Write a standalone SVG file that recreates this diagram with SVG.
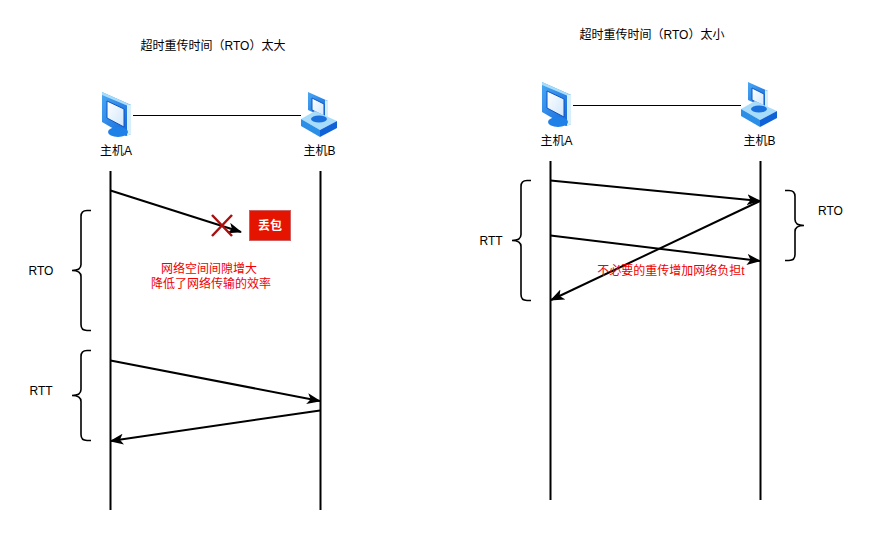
<svg xmlns="http://www.w3.org/2000/svg" width="871" height="533" viewBox="0 0 871 533">
<style>
text{font-family:"Liberation Sans","Noto Sans CJK SC",sans-serif;font-size:12px;fill:#000;text-anchor:middle}
.red{fill:#f00000}
.l{fill:none;stroke:#000;stroke-width:2}
.t{fill:none;stroke:#000;stroke-width:1}
.a{fill:none;stroke:#000;stroke-width:2;marker-end:url(#ah)}
.b{fill:none;stroke:#000;stroke-width:1.6}
</style>
<defs>
<linearGradient id="g" x1="0" y1="0" x2="1" y2="1"><stop offset="0" stop-color="#4aa8f4"/><stop offset="1" stop-color="#0f62d8"/></linearGradient>
<linearGradient id="s" x1="0" y1="0" x2="1" y2="1"><stop offset="0" stop-color="#ffffff"/><stop offset="1" stop-color="#cfe6fb"/></linearGradient>
<marker id="ah" viewBox="0 0 14 11" refX="13" refY="5.500" markerWidth="14" markerHeight="11" markerUnits="userSpaceOnUse" orient="auto"><path d="M0 0L14 5.500L0 11L3.500 5.500Z" fill="#000"/></marker>
<g id="pcA">
<path d="M1 0L30 13V42L25 44L1 30Z" fill="url(#g)"/>
<path d="M1 0L30 13L27 14L1 3Z" fill="#a8dcfb"/>
<path d="M26 13L30 13V42L26 44Z" fill="#d5effd"/>
<path d="M6 9L23 17V35L6 26Z" fill="url(#s)" stroke="#0f55c0" stroke-width="1"/>
<ellipse cx="17" cy="40" rx="10" ry="5" fill="#1f80e8"/>
</g>
<g id="pcB">
<path d="M7 0L27 9V27L7 18Z" fill="url(#g)"/>
<path d="M24 8L27 9V27L24 26Z" fill="#d5effd"/>
<path d="M11 6L23 12V24L11 18Z" fill="url(#s)" stroke="#0f55c0" stroke-width="1"/>
<path d="M0 27L14 19L36 29L19 38Z" fill="#a8dcfb"/>
<path d="M0 27L19 38V45L0 34Z" fill="#2b8fe8"/>
<path d="M19 38L36 29V36L19 45Z" fill="#0f62d8"/>
<ellipse cx="18" cy="27" rx="8" ry="3.500" fill="#1a70dc"/>
</g>
</defs>
<g id="connectors">
<line class="t" x1="133" y1="115.500" x2="301" y2="115.500"/>
<line class="l" x1="110.500" y1="171" x2="110.500" y2="510"/>
<line class="l" x1="320.500" y1="171" x2="320.500" y2="510"/>
<path class="a" d="M110.500 190.500L241 232"/>
<path class="a" d="M110.500 360.500L320 401"/>
<path class="a" d="M320 410.500L110.500 441"/>
<path class="b" d="M91 210.500H87Q81 210.500 81 216.500V264.500Q81 270.500 72 270.500Q81 270.500 81 276.500V324.500Q81 330.500 87 330.500H91"/>
<path class="b" d="M91 350.500H87Q81 350.500 81 356.500V389.500Q81 395.500 72 395.500Q81 395.500 81 401.500V434.500Q81 440.500 87 440.500H91"/>
<line class="t" x1="573" y1="105.500" x2="741" y2="105.500"/>
<line class="l" x1="550.500" y1="161" x2="550.500" y2="500"/>
<line class="l" x1="760.500" y1="161" x2="760.500" y2="500"/>
<path class="a" d="M550.500 180.500L760 201"/>
<path class="a" d="M550.500 235.500L760 261"/>
<path class="a" d="M760 201L551 300"/>
<path class="b" d="M531 180.500H527Q521 180.500 521 186.500V234.500Q521 240.500 512 240.500Q521 240.500 521 246.500V294.500Q521 300.500 527 300.500H531"/>
<path class="b" d="M785 190.500H789Q795 190.500 795 196.500V219.500Q795 225.500 804 225.500Q795 225.500 795 231.500V254.500Q795 260.500 789 260.500H785"/>
</g>
<text x="213" y="50">超时重传时间（RTO）太大</text>
<text x="652" y="39">超时重传时间（RTO）太小</text>
<g id="hostA1"><use href="#pcA" x="101" y="92"/><text x="116" y="155">主机A</text></g>
<g id="hostB1"><use href="#pcB" x="301" y="92"/><text x="319.500" y="155">主机B</text></g>
<g id="hostA2"><use href="#pcA" x="541" y="82"/><text x="556.500" y="145">主机A</text></g>
<g id="hostB2"><use href="#pcB" x="741" y="82"/><text x="759.500" y="145">主机B</text></g>
<g id="loss">
<path d="M212 215L232 236M232 215L212 236" stroke="#a81010" stroke-width="2.500" fill="none"/>
<rect x="249.500" y="210.500" width="41" height="30" fill="#e51400" stroke="#d06060"/>
<text x="270" y="230" style="fill:#fff;font-weight:bold">丢包</text>
</g>
<text x="41" y="275">RTO</text>
<text x="41" y="395">RTT</text>
<text x="491" y="245">RTT</text>
<text x="830.500" y="215">RTO</text>
<text class="red" x="209" y="273">网络空间间隙增大</text>
<text class="red" x="211" y="288">降低了网络传输的效率</text>
<text class="red" x="671" y="275">不必要的重传增加网络负担t</text>
</svg>
